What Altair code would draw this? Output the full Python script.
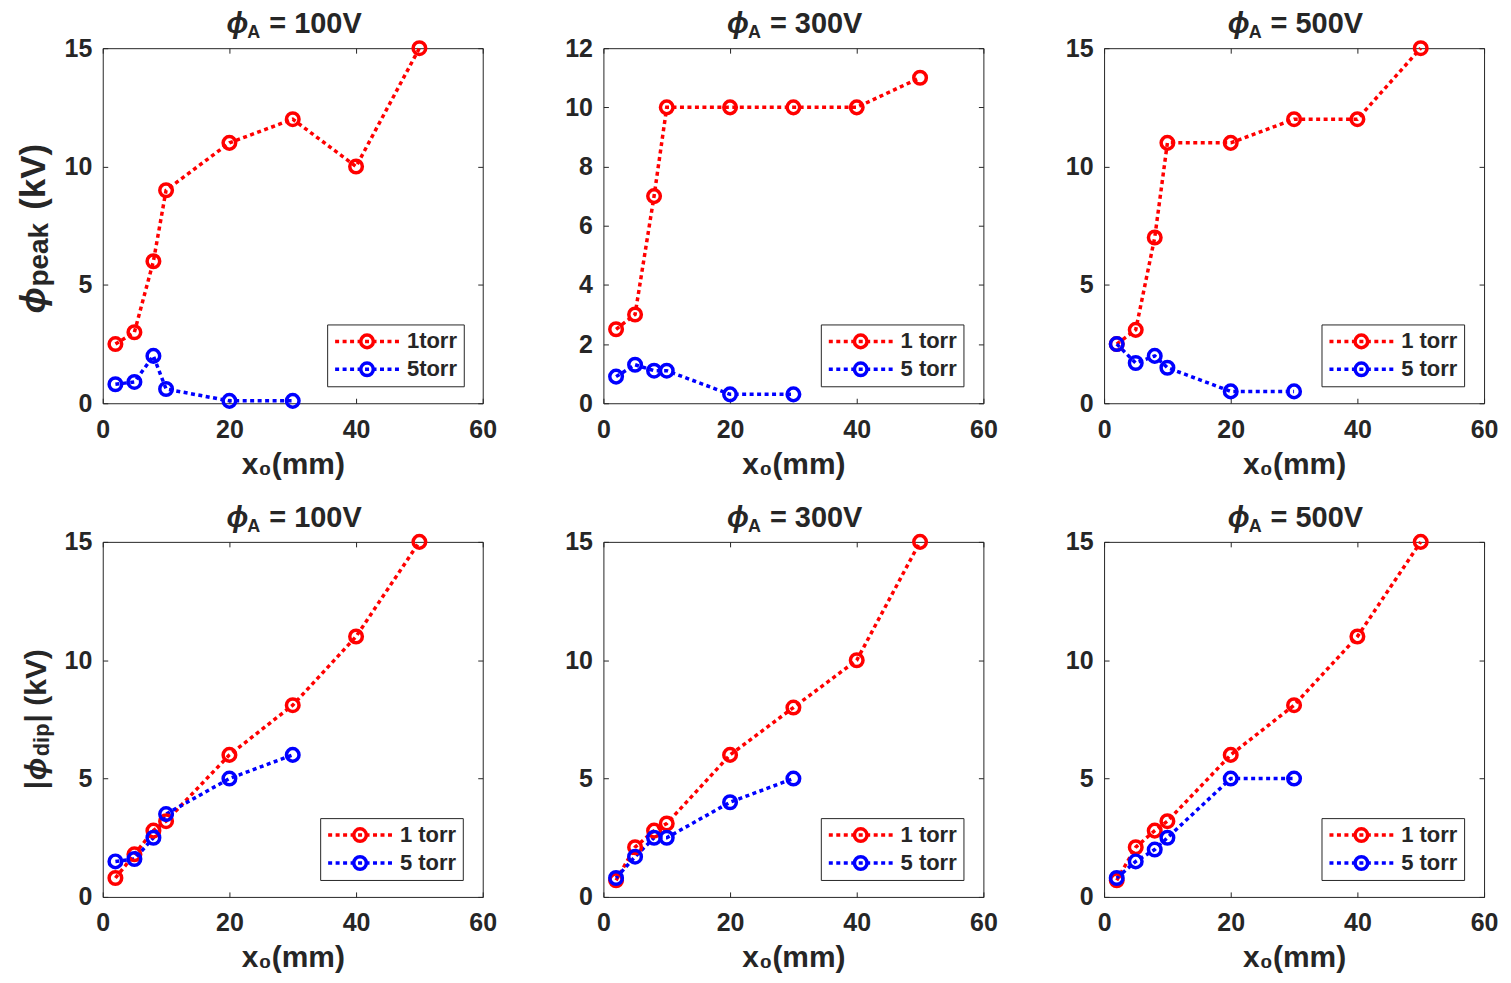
import altair as alt
import pandas as pd

# ---------------- data ----------------
x_1torr = [2, 5, 8, 10, 20, 30, 40, 50]
x_5torr = [2, 5, 8, 10, 20, 30]

peak_100_1 = [2.5, 3.0, 6.0, 9.0, 11.0, 12.0, 10.0, 15.0]
peak_100_5 = [0.8, 0.9, 2.0, 0.6, 0.1, 0.1]
peak_300_1 = [2.5, 3.0, 7.0, 10.0, 10.0, 10.0, 10.0, 11.0]
peak_300_5 = [0.9, 1.3, 1.1, 1.1, 0.3, 0.3]
peak_500_1 = [2.5, 3.1, 7.0, 11.0, 11.0, 12.0, 12.0, 15.0]
peak_500_5 = [2.5, 1.7, 2.0, 1.5, 0.5, 0.5]

dip_100_1 = [0.8, 1.8, 2.8, 3.2, 6.0, 8.1, 11.0, 15.0]
dip_100_5 = [1.5, 1.6, 2.5, 3.5, 5.0, 6.0]
dip_300_1 = [0.7, 2.1, 2.8, 3.1, 6.0, 8.0, 10.0, 15.0]
dip_300_5 = [0.8, 1.7, 2.5, 2.5, 4.0, 5.0]
dip_500_1 = [0.7, 2.1, 2.8, 3.2, 6.0, 8.1, 11.0, 15.0]
dip_500_5 = [0.8, 1.5, 2.0, 2.5, 5.0, 5.0]

labels_a = ["1torr", "5torr"]
labels_b = ["1 torr", "5 torr"]
voltages = ["100V", "300V", "500V"]
x_ticks = [0, 20, 40, 60]
y_ticks_15 = [0, 5, 10, 15]
y_ticks_12 = [0, 2, 4, 6, 8, 10, 12]

# ---------------- style ----------------
FONT = "Liberation Sans"
INK = "#262626"
RED = "#ff0000"
BLUE = "#0000ff"
W, H = 381, 356
PHI = "ϕ"
LINE_PATH = "M-32,0L32,0"
CIRCLE_PATH = "M6.3,0A6.3,6.3 0 1,1 -6.3,0A6.3,6.3 0 1,1 6.3,0Z"
DASH = [4, 3.5]
SW = 3.5


def text_layer(txt, size, x, y, style="normal", angle=0, align="left"):
    return alt.Chart(pd.DataFrame({"k": [0]})).mark_text(
        text=txt, font=FONT, fontSize=size, fontWeight="bold", fontStyle=style,
        align=align, baseline="alphabetic", angle=angle, color=INK
    ).encode(x=alt.value(x), y=alt.value(y))


def panel(y1, y5, labels, ymax, yticks, volt, ytitle_parts, legend_x):
    df = pd.DataFrame({
        "x": x_1torr + x_5torr,
        "y": y1 + y5,
        "series": [labels[0]] * len(y1) + [labels[1]] * len(y5),
    })
    df["series_pt"] = df["series"]
    xs = alt.Scale(domain=[0, 60], nice=False)
    ys = alt.Scale(domain=[0, ymax], nice=False)

    leg_common = dict(
        orient="none", legendX=legend_x, legendY=277, title=None,
        symbolSize=4, symbolStrokeWidth=SW, symbolOffset=23, symbolOpacity=1,
        labelOffset=29, labelFont=FONT, labelFontSize=22, labelFontWeight="bold",
        padding=6,
    )

    line = alt.Chart(df).mark_line(strokeDash=DASH, strokeWidth=SW).encode(
        x=alt.X("x:Q", scale=xs, axis=alt.Axis(
            orient="bottom", values=x_ticks, offset=-5, tickSize=5, labelPadding=14,
            title="x₀(mm)", titleFontSize=30, titleY=75, titleBaseline="alphabetic",
            domain=False, grid=False)),
        y=alt.Y("y:Q", scale=ys, axis=alt.Axis(
            orient="left", values=yticks, offset=-5, tickSize=5, labelPadding=11,
            title=None, domain=False, grid=False)),
        color=alt.Color("series:N", scale=alt.Scale(domain=labels, range=[RED, BLUE]),
                        legend=alt.Legend(symbolType=LINE_PATH, symbolDash=DASH, rowPadding=6,
                                          labelColor=INK, strokeColor=INK, **leg_common)),
    )

    pts = alt.Chart(df).mark_point(shape=CIRCLE_PATH, size=4, filled=False,
                                   strokeWidth=SW, opacity=1).encode(
        x=alt.X("x:Q", scale=xs, axis=alt.Axis(
            orient="top", values=x_ticks, offset=-5, tickSize=5, labels=False,
            title=None, domain=False, grid=False)),
        y=alt.Y("y:Q", scale=ys, axis=alt.Axis(
            orient="right", values=yticks, offset=-5, tickSize=5, labels=False,
            title=None, domain=False, grid=False)),
        stroke=alt.Stroke("series_pt:N", scale=alt.Scale(range=[RED, BLUE]),
                          legend=alt.Legend(symbolType=CIRCLE_PATH, symbolFillColor="transparent",
                                            labelExpr="''", rowPadding=0, **leg_common)),
    )

    layers = [line, pts,
              text_layer(PHI, 29, 124, -15, style="italic"),
              text_layer("A", 18, 145, -10),
              text_layer("= " + volt, 29, 167, -15)]
    for (txt, size, style, bx, sy) in ytitle_parts:
        layers.append(text_layer(txt, size, bx, sy, style=style, angle=270))

    return alt.layer(*layers).resolve_axis(x="independent", y="independent").properties(
        width=W, height=H)


ytitle_top = [(PHI, 35, "italic", -58, 266), ("peak", 28, "normal", -55, 239),
              ("(kV)", 35, "normal", -58, 162)]
ytitle_bot = [("|", 30, "normal", -57, 248), (PHI, 30, "italic", -57, 239),
              ("dip", 22, "normal", -54, 215), ("| (kV)", 30, "normal", -57, 181)]

p1 = panel(peak_100_1, peak_100_5, labels_a, 15, y_ticks_15, voltages[0], ytitle_top, 225)
p2 = panel(peak_300_1, peak_300_5, labels_b, 12, y_ticks_12, voltages[1], [], 218)
p3 = panel(peak_500_1, peak_500_5, labels_b, 15, y_ticks_15, voltages[2], [], 218)
p4 = panel(dip_100_1, dip_100_5, labels_b, 15, y_ticks_15, voltages[0], ytitle_bot, 218)
p5 = panel(dip_300_1, dip_300_5, labels_b, 15, y_ticks_15, voltages[1], [], 218)
p6 = panel(dip_500_1, dip_500_5, labels_b, 15, y_ticks_15, voltages[2], [], 218)

chart = alt.concat(
    p1, p2, p3, p4, p5, p6, columns=3,
    spacing=alt.RowColnumber(row=139, column=121), bounds="flush"
).resolve_scale(
    x="independent", y="independent", color="independent", stroke="independent"
).resolve_legend(color="independent", stroke="independent").properties(
    padding={"left": 8, "top": 0, "right": 4, "bottom": 0}
).configure_view(stroke=INK, strokeWidth=1).configure_axis(
    labelFont=FONT, labelFontSize=25, labelFontWeight="bold", labelColor=INK,
    labelFlush=False, tickColor=INK, tickWidth=1,
    titleFont=FONT, titleFontWeight="bold", titleColor=INK,
).configure_legend(strokeWidth=1)

chart.save("out.html", embed_options={"renderer": "svg", "actions": False})
